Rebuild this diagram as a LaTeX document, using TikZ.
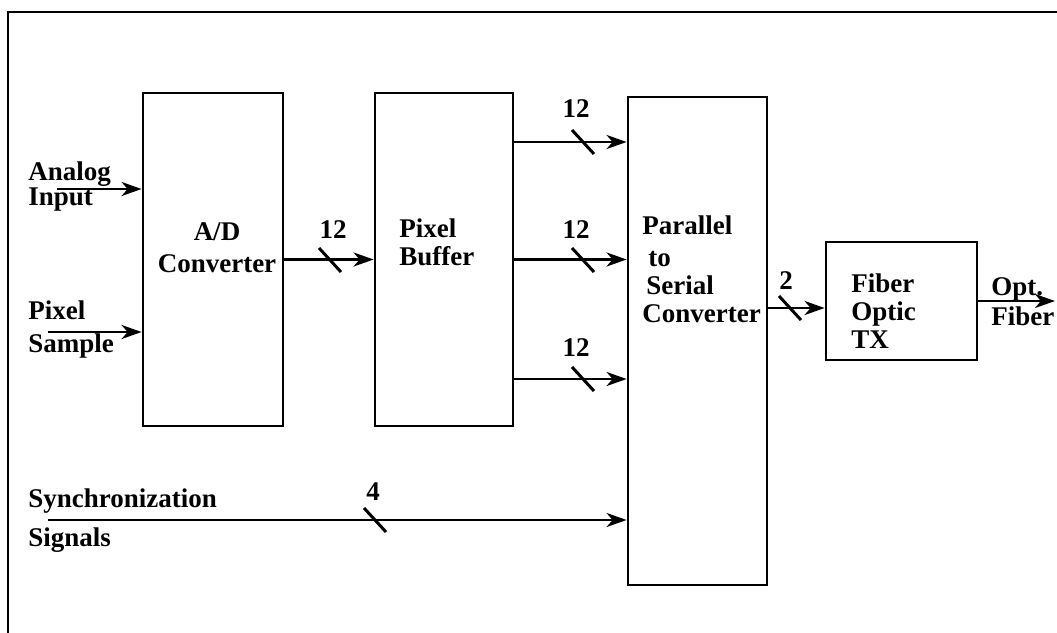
\documentclass[tikz,border=0pt]{standalone}
\usepackage{fontspec}
\setmainfont{Liberation Serif}
\usetikzlibrary{arrows.meta,fit,calc}
\begin{document}
\begin{tikzpicture}[x=0.5pt,y=-0.5pt,
  lw/.style={line width=1.4pt},
  box/.style={draw,lw,inner sep=0pt},
  arr/.style={lw,-{Stealth[length=10pt,width=7pt,inset=3pt]}},
  busmark/.style={line width=1.5pt},
  txt/.style={inner sep=0pt,font=\fontsize{13.5}{14}\selectfont\bfseries,align=left,anchor=west},
  num/.style={inner sep=0pt,font=\fontsize{13.5}{14}\selectfont\bfseries}]
\useasboundingbox (0,0) rectangle (1057,633);
% frame
\draw[lw] (8,633) -- (8,12) -- (1057,12);
% boxes
\node[box,fit={(143,93) (283,426)}] (ad) {};
\node[box,fit={(375,93) (513,426)}] (pb) {};
\node[box,fit={(628,97) (767,585)}] (ps) {};
\node[box,fit={(826,242) (977,360)}] (fo) {};
% box texts
\node[txt,align=center,anchor=center] (adt) at (217,248) {A/D\\[2pt]Converter};
\node[txt] (pbt) at (399,242) {Pixel\\Buffer};
\node[txt] (pst) at (642,269) {Parallel\\[2pt]\hspace{3pt}to\\\hspace{2pt}Serial\\Converter};
\node[txt] (fot) at (851,311) {Fiber\\Optic\\TX};
% external labels
\node[txt] (ain) at (28,187) {Analog\\[-1.5pt]Input};
\node[txt] (psl) at (28,330) {Pixel\\[2.5pt]Sample};
\node[txt] (syl) at (28,521) {Synchronization\\[5.5pt]Signals};
\node[txt] (opl) at (991,302) {Opt.\\[1pt]Fiber};
% helper coordinates
\coordinate (a1) at (57,189);
\coordinate (a2) at (48,332);
\coordinate (a3) at (48,520);
\coordinate (r1) at (0,142);
\coordinate (r3) at (0,379);
\coordinate (r4) at (0,308);
\coordinate (out) at (1055,301);
% connectors
\draw[arr] (a1) -- (a1 -| ad.west);
\draw[arr] (a2) -- (a2 -| ad.west);
\draw[arr] (ad.east) -- (pb.west);
\draw[arr] (pb.east |- r1) -- (ps.west |- r1);
\draw[arr] (pb.east) -- (ps.west |- pb.east);
\draw[arr] (pb.east |- r3) -- (ps.west |- r3);
\draw[arr] (ps.east |- r4) -- (fo.west |- r4);
\draw[arr] (fo.east) -- (out);
\draw[arr] (a3) -- (a3 -| ps.west);
% bus marks
\coordinate (s1) at (330,260);
\coordinate (s2) at (583,142);
\coordinate (s3) at (583,260);
\coordinate (s4) at (583,379);
\coordinate (s5) at (790,308);
\coordinate (s6) at (375,520);
\foreach \s in {s1,s2,s3,s4,s5,s6}
  \draw[busmark] ($(\s)+(-11,-12)$) -- ($(\s)+(11,12)$);
\node[num] (n1) at (333,230) {12};
\node[num] (n2) at (576,109) {12};
\node[num] (n3) at (576,230) {12};
\node[num] (n4) at (576,348) {12};
\node[num] (n5) at (786,281) {2};
\node[num] (n6) at (373,492) {4};
\end{tikzpicture}
\end{document}
